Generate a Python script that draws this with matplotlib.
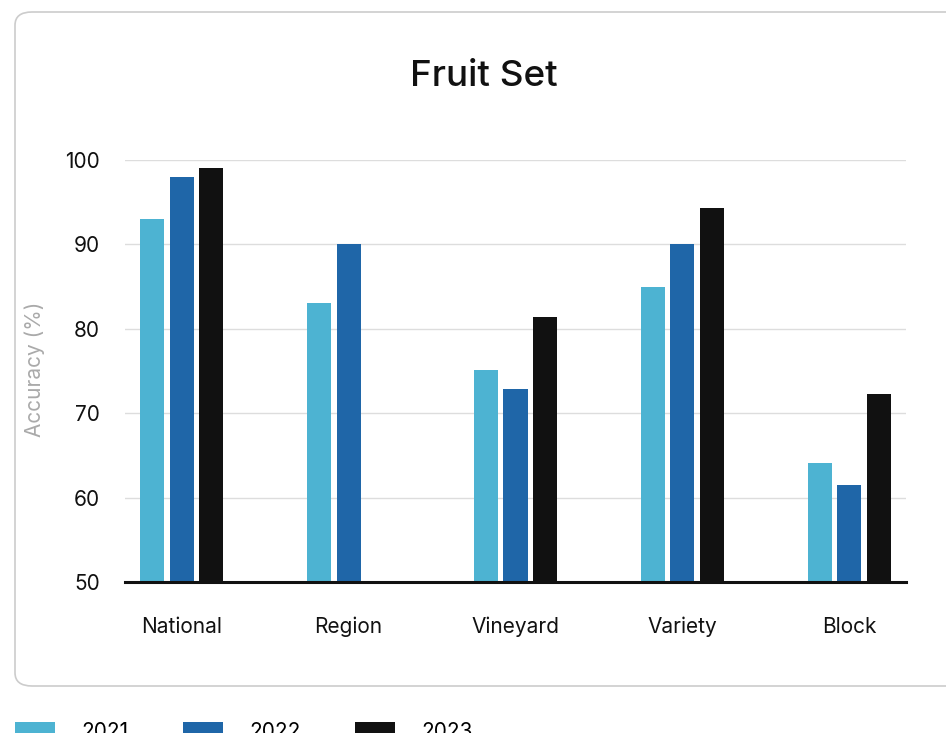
import matplotlib
matplotlib.use("Agg")
import matplotlib.pyplot as plt
from matplotlib.patches import FancyBboxPatch
import numpy as np

plt.rcParams["font.family"] = ["Inter", "DejaVu Sans"]

categories = ["National", "Region", "Vineyard", "Variety", "Block"]
years = ["2021", "2022", "2023"]
v2021 = [93.0, 83.0, 75.1, 84.9, 64.1]
v2022 = [98.0, 90.0, 72.9, 90.0, 61.5]
v2023 = [99.0, np.nan, 81.4, 94.3, 72.3]
colors = ["#4db3d2", "#1f66a8", "#111111"]

fig = plt.figure(figsize=(9.46, 7.33), dpi=100)

# card background
card = FancyBboxPatch((15 / 946, 1 - 686 / 733), 960 / 946, 674 / 733,
                      boxstyle="round,pad=0,rounding_size=0.018",
                      transform=fig.transFigure, facecolor="white",
                      edgecolor="#cccccc", lw=1.2, zorder=-5)
fig.patches.append(card)

ax = fig.add_axes([125 / 946, 1 - 582 / 733, 781 / 946, 422 / 733])
ax.set_facecolor("none")
ax.set_zorder(2)
x = np.arange(len(categories))
w = 0.144
off = 0.177
for i, (vals, c, yr) in enumerate(zip([v2021, v2022, v2023], colors, years)):
    ax.bar(x + (i - 1) * off, np.array(vals) - 50, w, bottom=50, color=c, label=yr, zorder=3)

ax.set_xlim(-0.34, 4.34)
ax.set_ylim(50, 100)
ax.set_yticks([50, 60, 70, 80, 90, 100])
ax.set_xticks(x)
ax.set_xticklabels(categories, va="baseline")
ax.tick_params(axis="both", length=0, labelsize=15, colors="#111111")
ax.tick_params(axis="x", pad=37)
ax.tick_params(axis="y", pad=18)
ax.grid(axis="y", color="#dddddd", lw=1, zorder=0)
for s in ["top", "right", "left"]:
    ax.spines[s].set_visible(False)
ax.spines["bottom"].set_color("#111111")
ax.spines["bottom"].set_linewidth(2.2)
ax.spines["bottom"].set_zorder(4)
ax.set_ylabel("Accuracy (%)", color="#aaaaaa", fontsize=15)
ax.yaxis.set_label_coords(-0.102, 0.505)

fig.text(484 / 946, 1 - 76 / 733, "Fruit Set", fontsize=26.5, fontweight="medium",
         ha="center", va="center", color="#111111")

fig.legend(loc="upper left", bbox_to_anchor=(15 / 946, 1 - 722 / 733), ncol=3,
           frameon=False, fontsize=15, borderpad=0, handlelength=1.9,
           handleheight=0.9, handletextpad=1.3, columnspacing=2.6, borderaxespad=0)

fig.savefig("out.png", dpi=100)
